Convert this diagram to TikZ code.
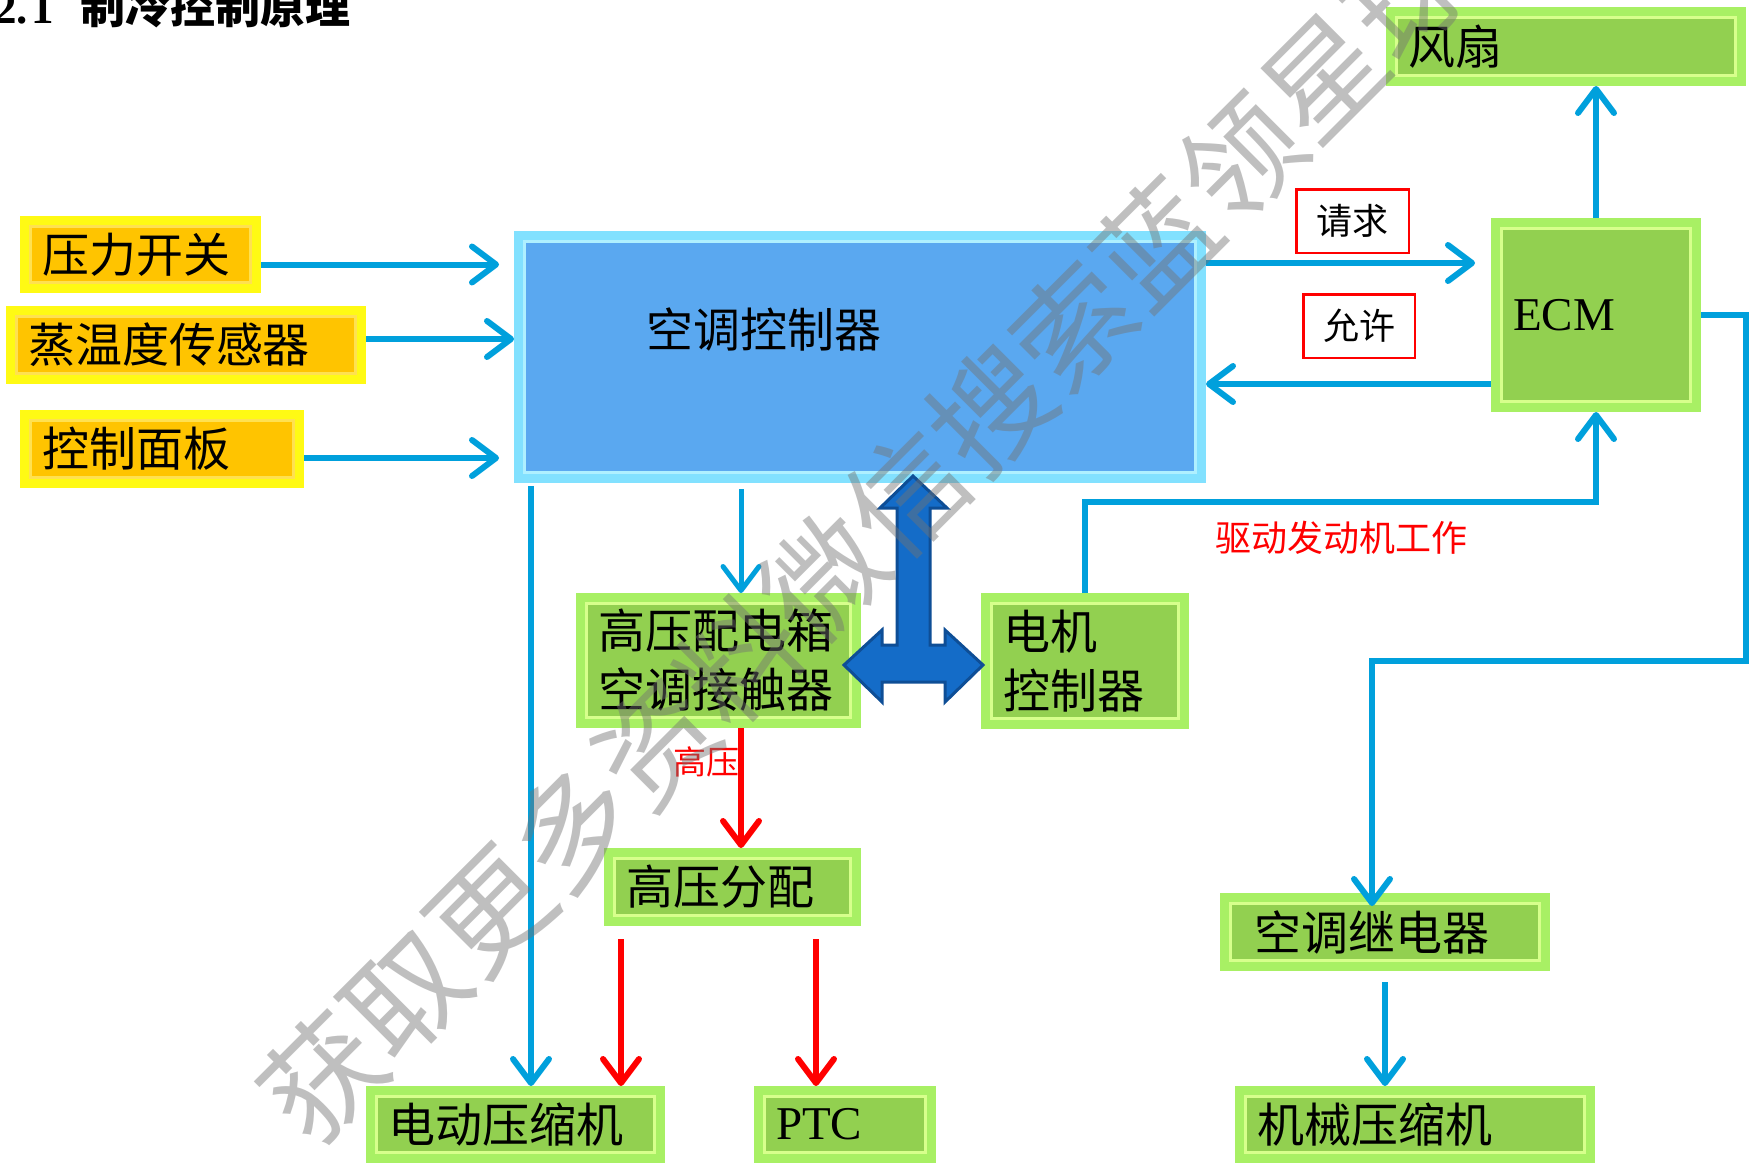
\documentclass[tikz,border=0pt]{standalone}
\usepackage{fontspec}
\setmainfont{Liberation Serif}
\newfontfamily\cjk{Noto Sans CJK SC}
\usetikzlibrary{arrows.meta}

\definecolor{aBlue}{RGB}{0,160,220}
\definecolor{gOut}{RGB}{168,240,100}
\definecolor{gIn}{RGB}{146,208,80}
\definecolor{gLine}{RGB}{215,255,140}
\definecolor{yOut}{RGB}{255,250,20}
\definecolor{yIn}{RGB}{255,196,0}
\definecolor{yLine}{RGB}{255,225,80}
\definecolor{bOut}{RGB}{130,225,255}
\definecolor{bIn}{RGB}{90,168,240}
\definecolor{bLine}{RGB}{175,240,255}
\definecolor{tFill}{RGB}{20,108,200}
\definecolor{tEdge}{RGB}{14,78,150}

\newcommand{\bigtxt}{\cjk\fontsize{47}{59}\selectfont}
\newcommand{\midtxt}{\cjk\fontsize{36}{42}\selectfont}

\begin{document}
\begin{tikzpicture}[x=1pt,y=-1pt,
  bevel/.style n args={3}{rectangle, draw=#1, fill=#2, line width=9pt,
    inner ysep=0pt, inner xsep=17.5pt, align=left, font=\bigtxt,
    path picture={\draw[#3, line width=2.5pt]
      ([xshift=6pt,yshift=-6pt]path picture bounding box.north west) rectangle
      ([xshift=-6pt,yshift=6pt]path picture bounding box.south east);}},
  ybox/.style={bevel={yOut}{yIn}{yLine}},
  gbox/.style={bevel={gOut}{gIn}{gLine}},
  bbox/.style={bevel={bOut}{bIn}{bLine}},
  tag/.style={rectangle, draw=red, line width=2.5pt, fill=white, font=\midtxt, inner sep=0pt},
  redtxt/.style={text=red, inner sep=0pt},
  ar/.style={draw=aBlue, line width=6pt, -{Straight Barb[length=24pt,width=36pt,round]}},
  rar/.style={ar, draw=red},
  tee/.style={fill=tFill, draw=tEdge, line width=3pt, line join=miter},
  wm/.style={text=black!55, text opacity=0.45, inner sep=0pt, font=\cjk\fontsize{118}{120}\selectfont}
]
\useasboundingbox (0,0) rectangle (1749,1164);
\fill[white] (0,0) rectangle (1749,1164);
\clip (0,0) rectangle (1749,1164);

% title
\node[anchor=base west, inner sep=0pt, font=\bfseries\fontsize{45}{50}\selectfont] (title) at (-6,24)
  {{\rmfamily 2.\hspace{4pt}1}\hspace{26pt}{\cjk 制冷控制原理}};

% input boxes
\node[ybox, minimum width=232pt, minimum height=68pt, text width=197pt] (psw) at (140.5,254.5) {压力开关};
\node[ybox, minimum width=351pt, minimum height=69pt, text width=316pt] (evs) at (186,345) {蒸温度传感器};
\node[ybox, minimum width=275pt, minimum height=69pt, text width=240pt] (pnl) at (162,449) {控制面板};

% controller
\node[bbox, minimum width=683pt, minimum height=243pt,
  label={[font=\bigtxt, xshift=-96pt, yshift=28pt]center:空调控制器}] (ctrl) at (860,357) {};

% green boxes
\node[gbox, minimum width=351pt, minimum height=70pt, text width=316pt] (fan) at (1566,46.5) {风扇};
\node[gbox, minimum width=201pt, minimum height=185pt, text width=166pt,
  font=\rmfamily\fontsize{47}{56}\selectfont] (ecm) at (1596,315) {ECM};
\node[gbox, minimum width=276pt, minimum height=126pt, text width=241pt] (hv) at (718.5,660.5) {高压配电箱\\空调接触器};
\node[gbox, minimum width=199pt, minimum height=127pt, text width=164pt] (mc) at (1085,661) {电机\\控制器};
\node[gbox, minimum width=248pt, minimum height=69pt, text width=213pt] (hvd) at (732.5,887) {高压分配};
\node[gbox, minimum width=290pt, minimum height=68pt, text width=255pt] (ecp) at (515.5,1124.5) {电动压缩机};
\node[gbox, minimum width=173pt, minimum height=68pt, text width=138pt,
  font=\rmfamily\fontsize{47}{56}\selectfont] (ptc) at (845,1124.5) {PTC};
\node[gbox, minimum width=321pt, minimum height=69pt, inner xsep=29.5pt, text width=262pt] (relay) at (1385,932) {空调继电器};
\node[gbox, minimum width=351pt, minimum height=68pt, text width=316pt] (mech) at (1415,1124.5) {机械压缩机};

% tags
\node[tag, minimum width=112.5pt, minimum height=63.5pt] (req) at (1352.5,221) {请求};
\node[tag, minimum width=111.5pt, minimum height=63.5pt] (allow) at (1359,326) {允许};

% labels
\node[redtxt, font=\cjk\fontsize{33}{36}\selectfont] (hvlbl) at (706,762) {高压};
\node[redtxt, font=\midtxt] (drv) at (1341,538) {驱动发动机工作};

% input arrows
\draw[ar, shorten >=15pt] ([yshift=-10pt]psw.east) -- ([yshift=-10pt]psw.east -| ctrl.west);
\draw[ar] ([yshift=6pt]evs.east) -- ([yshift=6pt]evs.east -| ctrl.west);
\draw[ar, shorten >=15pt] ([yshift=-9pt]pnl.east) -- ([yshift=-9pt]pnl.east -| ctrl.west);

% controller <-> ECM
\draw[ar, shorten >=16pt] ([yshift=94pt]ctrl.east) -- ([yshift=94pt]ctrl.east -| ecm.west);
\draw[ar] ([yshift=-69pt]ecm.west) -- ([yshift=-69pt]ecm.west -| ctrl.east);
\draw[ar] (ecm.north) -- (ecm.north |- fan.south);

% ECM loop to relay
\coordinate (rr) at (1746,661);
\draw[ar, shorten >=-13pt] (ecm.east) -| (rr) -| ([xshift=-13pt]relay.north);
\draw[ar, shorten <=11pt] (relay.south) -- (relay.south |- mech.north);

% motor controller to ECM
\coordinate (dj) at (1596,502);
\draw[ar] (mc.north) |- (dj) -- (ecm.south);

% controller down arrows
\draw[ar, line width=5pt, shorten <=6pt] ([xshift=-119pt]ctrl.south) -- ([xshift=-119pt]ctrl.south |- hv.north);
\draw[ar, shorten <=3pt] ([xshift=-329pt]ctrl.south) -- ([xshift=-329pt]ctrl.south |- ecp.north);

% high voltage red arrows
\draw[rar] ([xshift=22.5pt]hv.south) -- ([xshift=22.5pt]hv.south |- hvd.north);
\draw[rar, shorten <=13pt] ([xshift=-111.5pt]hvd.south) -- ([xshift=-111.5pt]hvd.south |- ecp.north);
\draw[rar, shorten <=13pt] ([xshift=83.5pt]hvd.south) -- ([xshift=83.5pt]hvd.south |- ptc.north);

% three-way block arrow
\draw[tee] (913,476) -- (947,508) -- (930,508) -- (930,645) -- (945,645) -- (945,630)
  -- (983,665) -- (945,702) -- (945,682) -- (882,682) -- (882,702) -- (844,665)
  -- (882,630) -- (882,645) -- (897,645) -- (897,508) -- (880,508) -- cycle;

% watermark
\node[wm, rotate=45] (wmark) at (865,535) {获取更多资料微信搜索蓝领星球};
\end{tikzpicture}
\end{document}
